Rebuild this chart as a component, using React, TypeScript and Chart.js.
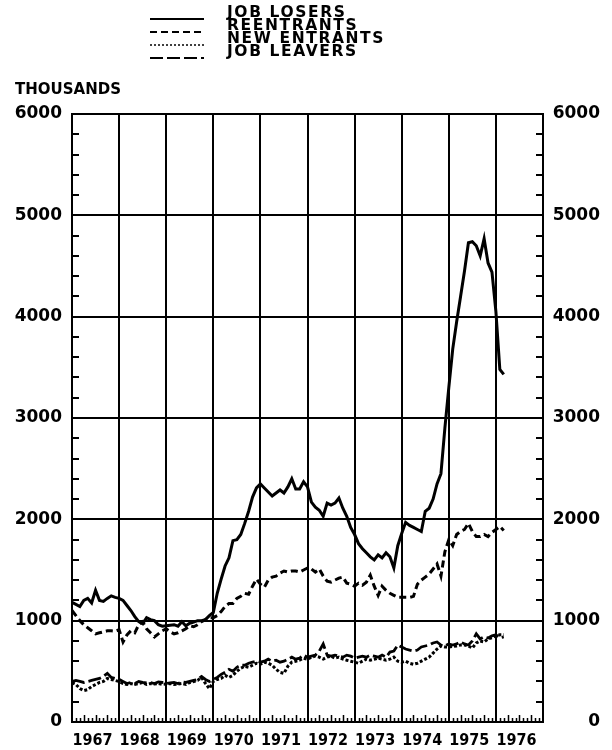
import React, { useEffect, useRef } from "react";
import { Chart, registerables } from "chart.js";

Chart.register(...registerables);

// ---- data (monthly, Jan 1967 onward, thousands) ----
const YEAR_LABELS = ["1967", "1968", "1969", "1970", "1971", "1972", "1973", "1974", "1975", "1976"];
const SERIES_NAMES = ["JOB LOSERS", "REENTRANTS", "NEW ENTRANTS", "JOB LEAVERS"];
const Y_MIN = 0;
const Y_MAX = 6000;
const Y_STEP = 1000;
const Y_MINOR_STEP = 200;
const MONTHS_SPAN = 120;

const JOB_LOSERS = [
  1180, 1160, 1140, 1200, 1220, 1175, 1300, 1200, 1190, 1220,
  1245, 1230, 1220, 1200, 1150, 1100, 1040, 990, 970, 1030,
  1010, 1000, 960, 945, 950, 955, 960, 945, 990, 950,
  975, 985, 1000, 1000, 1010, 1050, 1080, 1270, 1410, 1540,
  1620, 1790, 1800, 1850, 1960, 2080, 2220, 2310, 2350, 2310,
  2270, 2230, 2260, 2290, 2260, 2320, 2400, 2300, 2300, 2370,
  2320, 2170, 2120, 2090, 2030, 2160, 2140, 2160, 2210, 2110,
  2030, 1920, 1850, 1760, 1710, 1670, 1630, 1600, 1650, 1620,
  1670, 1630, 1520, 1740, 1860, 1970, 1940, 1920, 1900, 1880,
  2080, 2110, 2200, 2350, 2450, 2900, 3300, 3680, 3950, 4200,
  4450, 4730, 4740, 4700, 4600, 4770, 4530, 4440, 4050, 3480,
  3430,
];

const REENTRANTS = [
  1100, 1050, 1000, 960, 930, 900, 870, 880, 890, 900,
  900, 895, 910, 790, 860, 900, 880, 960, 990, 920,
  880, 840, 870, 900, 920, 890, 870, 880, 900, 920,
  950, 940, 960, 990, 1010, 1030, 1030, 1050, 1090, 1140,
  1170, 1170, 1220, 1240, 1270, 1260, 1340, 1410, 1360, 1330,
  1400, 1430, 1440, 1470, 1490, 1480, 1490, 1490, 1480, 1500,
  1520, 1510, 1480, 1510, 1440, 1390, 1380, 1400, 1420, 1430,
  1370, 1360, 1340, 1370, 1350, 1380, 1450, 1340, 1250, 1340,
  1300, 1270, 1250, 1230, 1230, 1230, 1230, 1240, 1360, 1400,
  1430, 1460, 1510, 1560, 1440, 1680, 1800, 1740, 1850, 1880,
  1900, 1960, 1880, 1830, 1830, 1850, 1830, 1870, 1900, 1930,
  1890,
];

const NEW_ENTRANTS = [
  390, 370, 330, 310, 320, 350, 370, 390, 400, 430,
  420, 410, 400, 380, 370, 380, 370, 380, 390, 370,
  380, 375, 380, 370, 375, 380, 370, 375, 380, 370,
  390, 400, 410, 440, 380, 330, 400, 420, 430, 460,
  440, 460, 500, 530, 550, 540, 560, 580, 570, 590,
  580, 560, 520, 490, 480, 550, 590, 600, 610, 630,
  620, 640, 650, 640, 620, 640, 650, 630, 640, 620,
  610, 600, 590, 580, 600, 620, 610, 620, 630, 620,
  610, 620, 640, 600, 590, 600, 580, 570, 580, 600,
  620, 640, 680, 720, 750, 740, 740, 745, 750, 760,
  760, 750, 730, 780, 800, 790, 820, 830, 850, 860,
  860,
];

const JOB_LEAVERS = [
  400, 410, 400, 390, 400, 410, 420, 430, 450, 480,
  440, 430, 420, 400, 380, 390, 380, 400, 390, 385,
  390, 380, 395, 390, 380, 385, 390, 380, 395, 390,
  400, 410, 420, 450, 420, 400, 420, 440, 470, 490,
  520, 500, 540, 560, 560, 580, 590, 600, 590, 600,
  620, 600, 610, 590, 600, 620, 640, 620, 630, 660,
  640, 650, 660, 700, 770, 660, 650, 660, 650, 640,
  660, 650, 630, 640, 650, 640, 660, 650, 640, 660,
  640, 690, 700, 760, 740, 720, 710, 700, 710, 740,
  750, 760, 780, 790, 760, 750, 770, 760, 770, 790,
  770, 760, 800, 870, 820, 840, 830, 850, 860, 830,
  840,
];

const SERIES_VALUES = [JOB_LOSERS, REENTRANTS, NEW_ENTRANTS, JOB_LEAVERS];
const SERIES_DASH: number[][] = [[], [7, 4], [3, 2], [13, 4]];
const SERIES_WIDTH = [3, 3, 3, 2.8];
const LEGEND_DASH = ["", "7 4", "2 2", "13 4"];

const TICK_FONT_Y = { family: "'DejaVu Sans', sans-serif", weight: "bold" as const, size: 17 };
const TICK_FONT_X = {
  family: "'Liberation Sans Narrow', 'DejaVu Sans Condensed', 'Liberation Sans', sans-serif",
  weight: "bold" as const,
  size: 16,
};

const minorTicksPlugin = {
  id: "minorTicks",
  afterDraw(chart: any) {
    const { ctx, chartArea } = chart;
    const ys = chart.scales.y;
    const xs = chart.scales.x;
    ctx.save();
    ctx.strokeStyle = "#000";
    ctx.lineWidth = 2;
    ctx.beginPath();
    for (let v = Y_MIN + Y_MINOR_STEP; v < Y_MAX; v += Y_MINOR_STEP) {
      if (v % Y_STEP === 0) continue;
      const py = Math.round(ys.getPixelForValue(v));
      ctx.moveTo(chartArea.left, py);
      ctx.lineTo(chartArea.left + 7, py);
      ctx.moveTo(chartArea.right - 7, py);
      ctx.lineTo(chartArea.right, py);
    }
    ctx.stroke();
    ctx.lineWidth = 1.5;
    ctx.beginPath();
    for (let m = 1; m < MONTHS_SPAN; m++) {
      if (m % 12 === 0) continue;
      const px = Math.round(xs.getPixelForValue(m)) + 0.5;
      const len = m % 3 === 0 ? 7 : 4;
      ctx.moveTo(px, chartArea.bottom);
      ctx.lineTo(px, chartArea.bottom - len);
    }
    ctx.stroke();
    ctx.restore();
  },
};

function Legend() {
  const rowTop = 6;
  const rowH = 13;
  return (
    <div style={{ position: "absolute", left: 150, top: 0, width: 300, height: 70 }}>
      {SERIES_NAMES.map((name, i) => (
        <div
          key={name}
          style={{
            position: "absolute",
            left: 0,
            top: rowTop + i * rowH,
            height: rowH,
            width: 300,
          }}
        >
          <svg width={54} height={6} style={{ position: "absolute", left: 0, top: 10 }}>
            <line
              x1={0}
              y1={3}
              x2={54}
              y2={3}
              stroke="#000"
              strokeWidth={i === 2 ? 1.6 : 2}
              strokeDasharray={LEGEND_DASH[i] || undefined}
            />
          </svg>
          <span
            style={{
              position: "absolute",
              left: 77,
              top: 0,
              fontFamily: "'DejaVu Sans', sans-serif",
              fontWeight: "bold",
              fontSize: 15.5,
              lineHeight: `${rowH}px`,
              letterSpacing: 1.6,
              whiteSpace: "nowrap",
              color: "#000",
            }}
          >
            {name}
          </span>
        </div>
      ))}
    </div>
  );
}

export default function App() {
  const canvasRef = useRef<HTMLCanvasElement | null>(null);

  useEffect(() => {
    if (!canvasRef.current) return;
    const datasets = SERIES_NAMES.map((name, i) => ({
      label: name,
      data: SERIES_VALUES[i].map((v, m) => ({ x: m, y: v })),
      borderColor: "#000",
      backgroundColor: "#000",
      borderWidth: SERIES_WIDTH[i],
      borderDash: SERIES_DASH[i],
      pointRadius: 0,
      tension: 0,
      fill: false,
    }));

    const plainLabel = (v: any) => String(v);

    const chart = new Chart(canvasRef.current, {
      type: "line",
      data: { datasets },
      plugins: [minorTicksPlugin],
      options: {
        responsive: false,
        devicePixelRatio: 1,
        animation: false,
        layout: { padding: { left: 15, right: 12, top: 0, bottom: 0 } },
        plugins: {
          legend: { display: false },
          tooltip: { enabled: false },
          title: {
            display: true,
            text: "THOUSANDS",
            align: "start",
            color: "#000",
            font: { family: "'DejaVu Sans', sans-serif", weight: "bold", size: 15 },
            padding: { top: 81, bottom: 15 },
          },
        },
        scales: {
          x: {
            type: "linear",
            min: 0,
            max: MONTHS_SPAN,
            afterFit: (s: any) => {
              s.height = 28;
            },
            grid: {
              color: (c: any) => (c.tick && c.tick.value % 12 === 0 ? "#000" : "rgba(0,0,0,0)"),
              lineWidth: 2,
              drawTicks: false,
            },
            border: { display: true, color: "#000", width: 2 },
            ticks: {
              stepSize: 6,
              autoSkip: false,
              maxRotation: 0,
              padding: 9,
              labelOffset: -3,
              color: "#000",
              font: TICK_FONT_X,
              callback: (v: any) => {
                const n = Number(v);
                if (n % 12 !== 6) return "";
                return YEAR_LABELS[(n - 6) / 12] ?? "";
              },
            },
          },
          y: {
            type: "linear",
            position: "left",
            min: Y_MIN,
            max: Y_MAX,
            afterFit: (s: any) => {
              s.width = 57;
            },
            grid: { color: "#000", lineWidth: 2, drawTicks: false },
            border: { display: true, color: "#000", width: 2 },
            ticks: {
              stepSize: Y_STEP,
              padding: 10,
              color: "#000",
              font: TICK_FONT_Y,
              callback: plainLabel,
            },
          },
          y2: {
            type: "linear",
            position: "right",
            min: Y_MIN,
            max: Y_MAX,
            afterFit: (s: any) => {
              s.width = 57;
            },
            grid: { display: false, drawTicks: false },
            border: { display: true, color: "#000", width: 2 },
            ticks: {
              stepSize: Y_STEP,
              padding: 10,
              crossAlign: "far",
              color: "#000",
              font: TICK_FONT_Y,
              callback: plainLabel,
            },
          },
        },
      } as any,
    });
    return () => chart.destroy();
  }, []);

  return (
    <div style={{ position: "absolute", left: 0, top: 0, width: 612, height: 750, background: "#fff" }}>
      <canvas
        ref={canvasRef}
        width={612}
        height={750}
        style={{ position: "absolute", left: 0, top: 0, width: 612, height: 750 }}
      />
      <Legend />
    </div>
  );
}
